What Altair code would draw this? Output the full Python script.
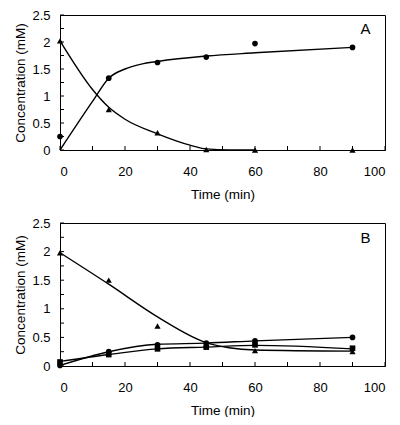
import altair as alt
import pandas as pd

# ---------- data ----------
time_pts = [0, 15, 30, 45, 60, 90]

# Panel A
a_circle = [0.25, 1.33, 1.62, 1.72, 1.97, 1.90]
a_triangle = [2.02, 0.75, 0.32, 0.01, 0.0, 0.0]
a_circle_fit_t = [0, 10, 15, 20, 25, 30, 45, 60, 90]
a_circle_fit_v = [0.0, 0.90, 1.33, 1.50, 1.59, 1.64, 1.74, 1.80, 1.90]
a_tri_fit_t = [0, 10, 15, 20, 30, 40, 45, 52, 60]
a_tri_fit_v = [2.02, 1.12, 0.79, 0.57, 0.30, 0.09, 0.02, 0.0, 0.0]

# Panel B
b_circle = [0.01, 0.25, 0.37, 0.40, 0.44, 0.50]
b_square = [0.07, 0.20, 0.30, 0.33, 0.37, 0.31]
b_triangle = [1.98, 1.50, 0.70, 0.38, 0.27, 0.25]
b_circle_fit = [0.01, 0.25, 0.38, 0.40, 0.44, 0.50]
b_square_fit = [0.08, 0.20, 0.30, 0.33, 0.36, 0.30]
b_tri_fit_t = [0, 15, 30, 45, 52, 60, 90]
b_tri_fit_v = [1.98, 1.43, 0.86, 0.41, 0.32, 0.28, 0.26]

x_ticks = [0, 10, 20, 30, 40, 50, 60, 70, 80, 90, 100]
x_labels = [0, 20, 40, 60, 80, 100]
y_ticks = [0, 0.25, 0.5, 0.75, 1, 1.25, 1.5, 1.75, 2, 2.25, 2.5]
y_labels = [0, 0.5, 1, 1.5, 2, 2.5]

W = 325
HA, HB = 135, 143
FONT = "Liberation Sans"

xscale = alt.Scale(domain=[0, 100], nice=False)
yscale = alt.Scale(domain=[0, 2.5], nice=False)
xaxis = alt.Axis(values=x_labels, title="Time (min)", ticks=False,
                 labelPadding=15, titlePadding=9, format="d")
yaxis = alt.Axis(values=y_labels, title="Concentration (mM)", ticks=False,
                 labelPadding=10, titlePadding=4, format="~g")


def xenc():
    return alt.X("t", type="quantitative", scale=xscale, axis=xaxis)


def yenc():
    return alt.Y("v", type="quantitative", scale=yscale, axis=yaxis)


def line_layer(ts, vs):
    df = pd.DataFrame({"t": ts, "v": vs})
    return alt.Chart(df).mark_line(color="black", strokeWidth=1.4, interpolate="monotone").encode(
        x=xenc(), y=yenc())


def point_layer(ts, vs, shape, size):
    df = pd.DataFrame({"t": ts, "v": vs})
    return alt.Chart(df).mark_point(shape=shape, filled=True, color="black", opacity=1,
                                    size=size).encode(x=xenc(), y=yenc())


def frame_layers(label, lx, ly, h):
    xt = pd.DataFrame({"t": x_ticks})
    yt = pd.DataFrame({"v": y_ticks})
    xt_l = alt.Chart(xt).mark_rule(color="black", strokeWidth=1).encode(
        x=xenc(), y=alt.value(h), y2=alt.value(h - 4))
    yt_l = alt.Chart(yt).mark_rule(color="black", strokeWidth=1).encode(
        y=yenc(), x=alt.value(0), x2=alt.value(4))
    lab = alt.Chart(pd.DataFrame({"t": [lx], "v": [ly], "s": [label]})).mark_text(
        font=FONT, fontSize=15, color="black").encode(
        x=xenc(), y=yenc(), text="s:N")
    return [xt_l, yt_l, lab]


panel_a = alt.layer(
    *frame_layers("A", 94, 2.25, HA),
    line_layer(a_circle_fit_t, a_circle_fit_v),
    line_layer(a_tri_fit_t, a_tri_fit_v),
    point_layer(time_pts, a_circle, "circle", 32),
    point_layer(time_pts, a_triangle, "triangle-up", 38),
).properties(width=W, height=HA)

panel_b = alt.layer(
    *frame_layers("B", 94, 2.23, HB),
    line_layer(time_pts, b_circle_fit),
    line_layer(time_pts, b_square_fit),
    line_layer(b_tri_fit_t, b_tri_fit_v),
    point_layer(time_pts, b_circle, "circle", 32),
    point_layer(time_pts, b_square, "square", 32),
    point_layer(time_pts, b_triangle, "triangle-up", 38),
).properties(width=W, height=HB)

chart = alt.vconcat(panel_a, panel_b, spacing=15).properties(
    padding={"left": 5, "top": 0, "right": 5, "bottom": 0}
).configure_view(stroke="black", strokeWidth=1).configure_axis(
    grid=False, domainColor="black", domainWidth=1, labelColor="black", titleColor="black",
    labelFont=FONT, titleFont=FONT, labelFontSize=13, titleFontSize=13.5,
    titleFontWeight="normal"
)

chart.save("out.html", embed_options={"renderer": "svg", "actions": False})
